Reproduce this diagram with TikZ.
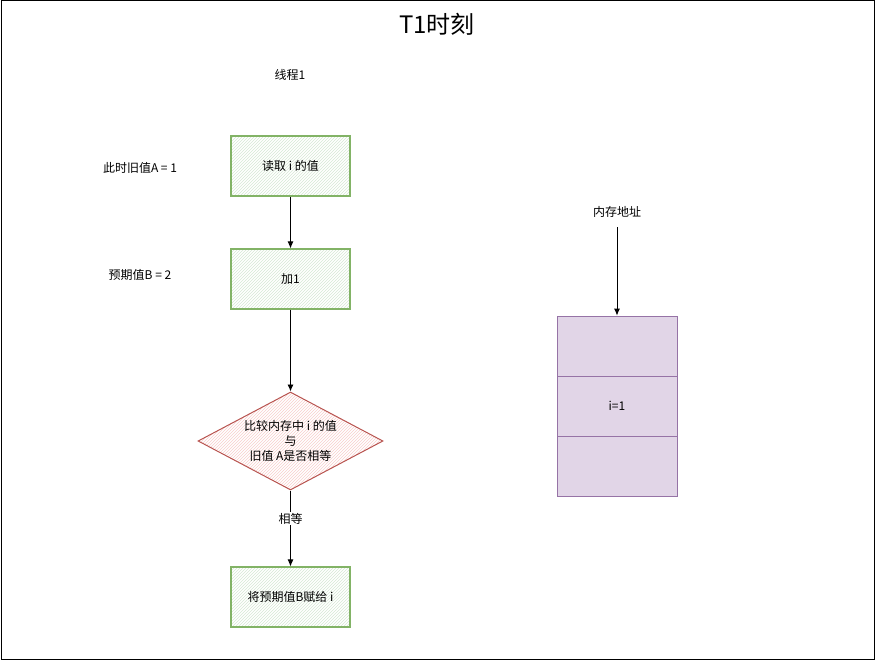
\documentclass[tikz,border=0pt]{standalone}
\usepackage{fontspec}
\setmainfont{Noto Sans CJK SC}
\usetikzlibrary{shapes.geometric,arrows.meta,patterns}
\definecolor{gfill}{HTML}{D5E8D4}
\definecolor{gline}{HTML}{82B366}
\definecolor{rfill}{HTML}{F8CECC}
\definecolor{rline}{HTML}{B85450}
\definecolor{pfill}{HTML}{E1D5E7}
\definecolor{pline}{HTML}{9673A6}
\tikzset{
  txt/.style={font=\fontsize{12}{15}\selectfont},
  gbox/.style={draw=gline, line width=1.1pt, minimum width=119pt, minimum height=60pt, pattern=north east lines, pattern color=gfill, txt, inner sep=0pt},
  rdia/.style={diamond, draw=rline, line width=1pt, minimum width=185pt, minimum height=98pt, aspect=1.89, pattern=north east lines, pattern color=rfill, inner sep=0pt, txt, align=center},
  cell/.style={draw=pline, fill=pfill, line width=0.8pt, minimum width=120pt, minimum height=60pt, inner sep=0pt, txt},
  lbl/.style={txt, inner sep=1pt},
  arr/.style={draw, line width=0.9pt, -{Latex[length=7pt,width=6pt]}}
}
\begin{document}
\begin{tikzpicture}[x=1pt,y=-1pt]
\useasboundingbox (0,0) rectangle (876,661);
\draw[line width=1pt] (1,1) rectangle (874,659);
\node[font=\fontsize{24}{28}\selectfont] (title) at (437,24) {T1时刻};
\node[lbl] (thr) at (290,75) {线程1};
\node[gbox] (b1) at (290.5,166) {读取 i 的值};
\node[lbl] (la) at (140,168) {此时旧值A = 1};
\node[gbox] (b2) at (290.5,279) {加1};
\node[lbl] (lb) at (140,275) {预期值B = 2};
\node[rdia] (d) at (290.5,441) {比较内存中 i 的值\\与\\旧值 A是否相等};
\node[gbox] (b3) at (290.5,597) {将预期值B赋给 i};
\draw[arr] (b1.south) -- (b2.north);
\draw[arr] (b2.south) -- (d.north);
\draw[arr] (d.south) -- node[lbl, fill=white, pos=0.37] (eq) {相等} (b3.north);
\node[cell] (c1) at (617,346) {};
\node[cell] (c2) at (617,406) {i=1};
\node[cell] (c3) at (617,466) {};
\node[lbl] (addr) at (617,212) {内存地址};
\coordinate (astart) at (617,227);
\draw[arr] (astart) -- (c1.north);
\end{tikzpicture}
\end{document}
